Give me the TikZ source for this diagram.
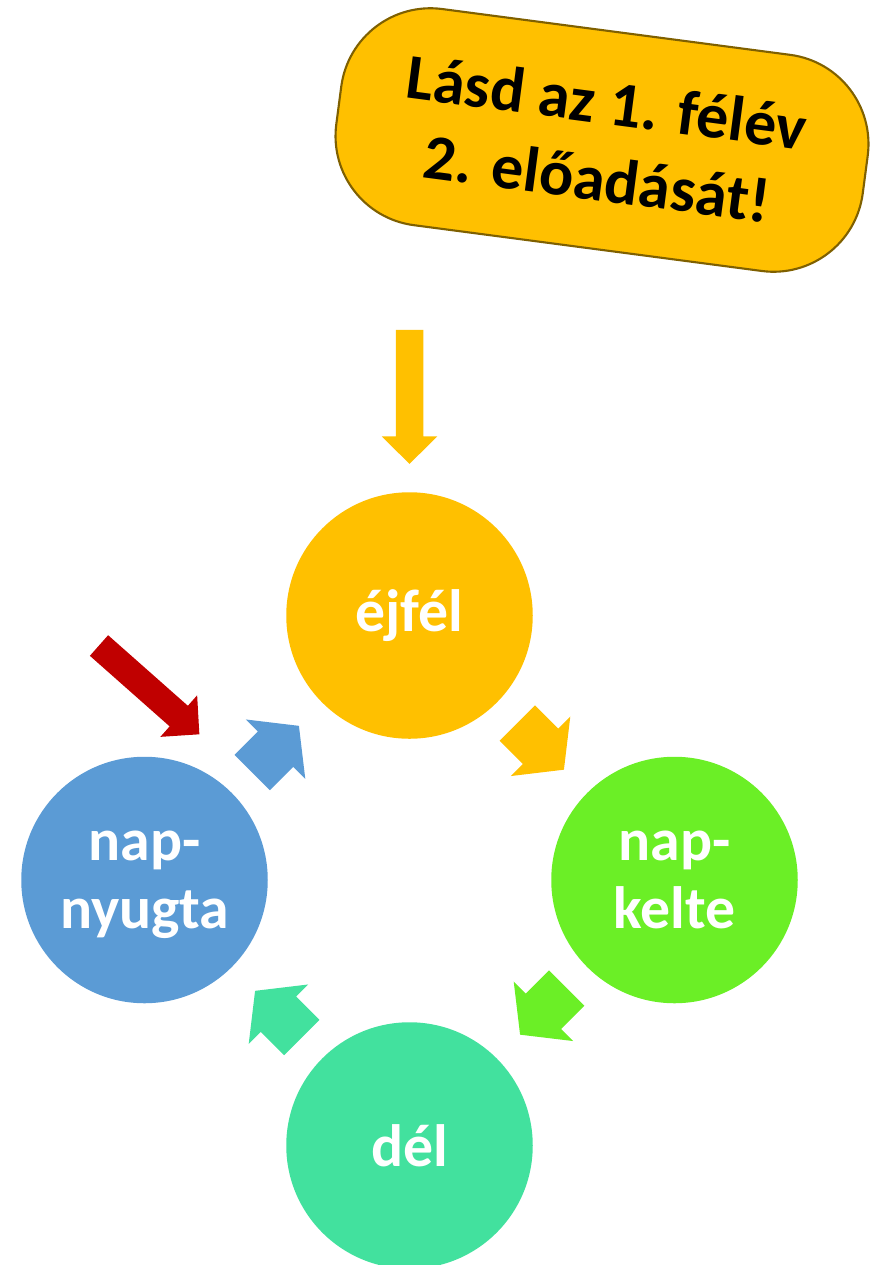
\documentclass[tikz,border=0pt]{standalone}
\usepackage{fontspec}
\setmainfont{Carlito}
\usepackage{tikz}
\usetikzlibrary{calc}
\definecolor{arany}{HTML}{FFC000}
\definecolor{keret}{HTML}{7F6000}
\definecolor{zold}{HTML}{6BEF26}
\definecolor{turkiz}{HTML}{42E19E}
\definecolor{kek}{HTML}{5B9BD5}
\definecolor{piros}{HTML}{C00000}
\tikzset{
  kor/.style={circle, minimum size=4.93cm, inner sep=0pt, text=white, align=center, font=\bfseries\fontsize{34}{38.7}\selectfont},
  pics/korarrow/.style={code={\fill[#1] (-0.7,0.5) -- (-0.04,0.5) -- (-0.04,0.84) -- (0.62,0) -- (-0.04,-0.84) -- (-0.04,-0.5) -- (-0.7,-0.5) -- cycle;}},
  pics/nagyarrow/.style={code={\fill[#1] (0,0.275) -- (2.13,0.275) -- (2.13,0.555) -- (2.68,0) -- (2.13,-0.555) -- (2.13,-0.275) -- (0,-0.275) -- cycle;}}
}

\begin{document}
\begin{tikzpicture}
\useasboundingbox (0,0) rectangle (17.72,-25.3);
\path (12.04,-2.8) node[draw=keret, line width=1.2pt, fill=arany, rounded corners=1.8cm, minimum width=10.62cm, minimum height=4.36cm, rotate=-7.5, align=center, font=\bfseries\fontsize{36.4}{43.8}\selectfont] (felirat) {Lásd az 1. félév\\2. előadását!};
\path (8.19,-12.31) node[kor, fill=arany] (ejfel) {éjfél};
\path (13.49,-17.6) node[kor, fill=zold, text depth=0pt] (napkelte) {nap-\\kelte};
\path (8.19,-22.91) node[kor, fill=turkiz] (del) {dél};
\path (2.89,-17.6) node[kor, fill=kek, text depth=0pt] (napnyugta) {nap-\\nyugta};
%\path (0,0) node {\phantom{x}};
\pic[rotate=-90] at ($(ejfel.north)+(0,3.24)$) {nagyarrow=arany};
\pic[rotate=-41.5] at ($(napnyugta)+(-0.91,4.69)$) {nagyarrow=piros};
\begin{scope}
\pic[rotate=-45] at ($(ejfel)!0.5!(napkelte)$) {korarrow=arany};
\pic[rotate=-135] at ($(napkelte)!0.5!(del)$) {korarrow=zold};
\pic[rotate=135] at ($(del)!0.5!(napnyugta)$) {korarrow=turkiz};
\pic[rotate=45] at ($(napnyugta)!0.5!(ejfel)$) {korarrow=kek};
\end{scope}
\end{tikzpicture}
\end{document}
